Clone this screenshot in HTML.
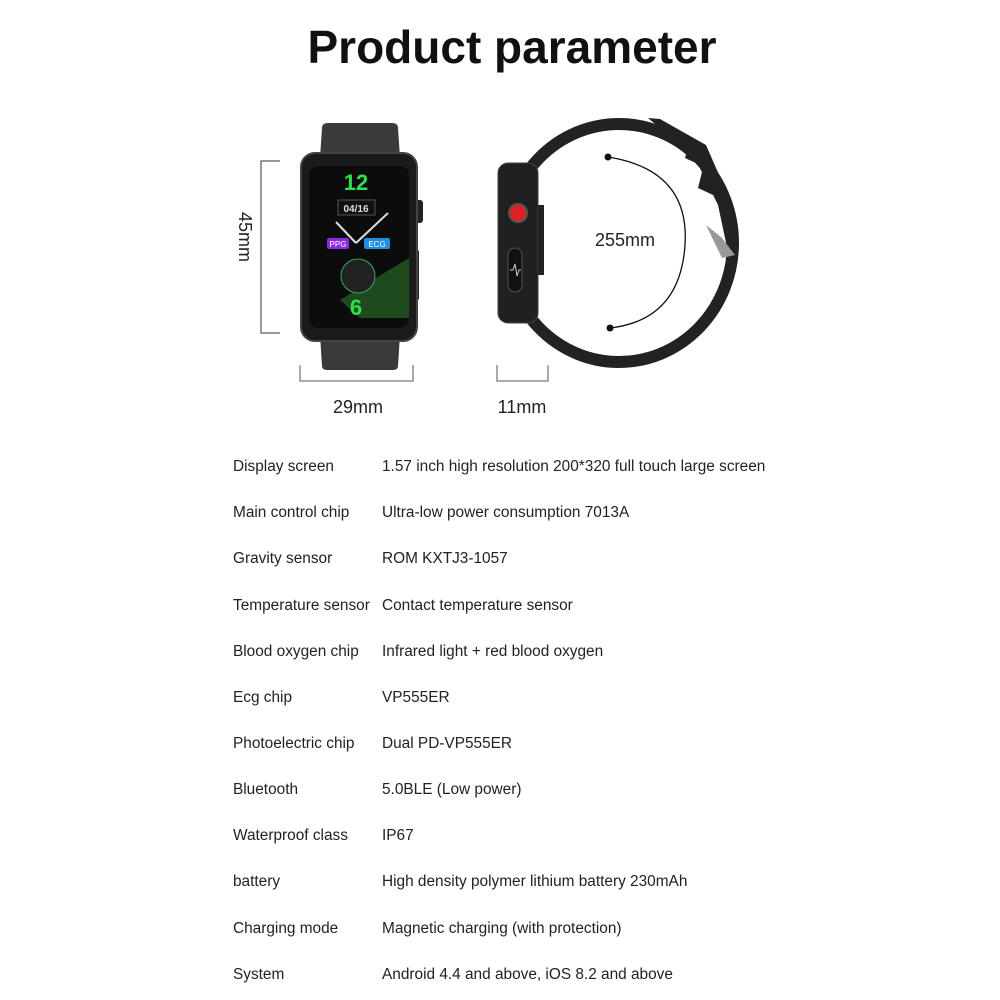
<!DOCTYPE html>
<html><head><style>
body{margin:0;width:1000px;height:1000px;background:#fff;font-family:"Liberation Sans",sans-serif;overflow:hidden;position:relative}
h1{position:absolute;top:20px;left:12px;width:1000px;margin:0;text-align:center;font-size:46px;font-weight:bold;color:#111}
.r{position:absolute;left:233px;font-size:15.4px;color:#222;white-space:nowrap}
.r span{position:absolute;left:149px}
</style></head><body>
<h1>Product parameter</h1>
<svg width="1000" height="430" style="position:absolute;left:0;top:0" font-family="Liberation Sans">
<path d="M322 128 Q322 123 328 123 L392 123 Q398 123 398 128 L400 158 L320 158 Z" fill="#3a3a3a"/>
<path d="M320 335 L400 335 L398 366 Q398 370 392 370 L328 370 Q322 370 322 366 Z" fill="#3a3a3a"/>
<rect x="414" y="200" width="9" height="23" rx="3" fill="#222"/>
<rect x="414" y="250" width="5" height="50" rx="2" fill="#222"/>
<rect x="301" y="153" width="116" height="188" rx="14" fill="#1b1b1b" stroke="#444" stroke-width="2"/>
<rect x="309" y="166" width="100" height="162" rx="9" fill="#0c0c0c"/>
<polygon points="340,300 409,258 409,318 360,318" fill="#1e4a1e"/>
<text x="356" y="190" font-size="22" font-weight="bold" fill="#2ee04a" text-anchor="middle">12</text>
<text x="356" y="315" font-size="22" font-weight="bold" fill="#2ee04a" text-anchor="middle">6</text>
<rect x="338" y="200" width="37" height="15" fill="#111" stroke="#555"/>
<text x="356" y="212" font-size="10" font-weight="bold" fill="#ddd" text-anchor="middle">04/16</text>
<line x1="356" y1="243" x2="336" y2="222" stroke="#ddd" stroke-width="2"/>
<line x1="356" y1="243" x2="388" y2="213" stroke="#ddd" stroke-width="2"/>
<rect x="327" y="238" width="22" height="11" rx="2" fill="#8a2be2"/>
<text x="338" y="247" font-size="8" fill="#fff" text-anchor="middle">PPG</text>
<rect x="364" y="238" width="26" height="11" rx="2" fill="#1e8fe0"/>
<text x="377" y="247" font-size="8" fill="#fff" text-anchor="middle">ECG</text>
<circle cx="358" cy="276" r="17" fill="#222" stroke="#3a6" stroke-width="1"/>
<path d="M280 161 H261 V333 H280" fill="none" stroke="#333" stroke-width="1"/>
<text x="245" y="237" font-size="18" fill="#222" text-anchor="middle" transform="rotate(90 245 237)" dy="6">45mm</text>
<path d="M300 365 V381 H413 V365" fill="none" stroke="#555" stroke-width="1"/>
<text x="358" y="413" font-size="18" fill="#222" text-anchor="middle">29mm</text>
<ellipse cx="619" cy="243" rx="114" ry="119" fill="none" stroke="#222" stroke-width="12"/>
<polygon points="648,118 660,119 706,145 730,200 738,250 728,252 718,205 695,158" fill="#222"/>
<polygon points="690,140 705,148 700,165 685,158" fill="#222"/>
<polygon points="703,168 718,175 713,195 698,188" fill="#222"/>
<polygon points="706,225 722,238 735,255 722,258" fill="#999"/>
<rect x="498" y="163" width="40" height="160" rx="10" fill="#202020" stroke="#444"/>
<rect x="538" y="205" width="6" height="70" fill="#222"/>
<circle cx="518" cy="213" r="9" fill="#e02020" stroke="#555" stroke-width="2"/>
<rect x="508" y="248" width="14" height="44" rx="7" fill="#111" stroke="#555"/>
<polyline points="510,270 513,270 515,264 517,276 519,270 521,270" fill="none" stroke="#ccc" stroke-width="1"/>
<path d="M608 157 Q690 170 685 245 Q680 320 610 328" fill="none" stroke="#111" stroke-width="1.3"/>
<circle cx="608" cy="157" r="3.5" fill="#111"/><circle cx="610" cy="328" r="3.5" fill="#111"/>
<text x="625" y="246" font-size="18" fill="#222" text-anchor="middle">255mm</text>
<path d="M497 365 V381 H548 V365" fill="none" stroke="#555" stroke-width="1"/>
<text x="522" y="413" font-size="18" fill="#222" text-anchor="middle">11mm</text>
</svg>
<div class="r" style="top:458px">Display screen<span>1.57 inch high resolution 200*320 full touch large screen</span></div>
<div class="r" style="top:504px">Main control chip<span>Ultra-low power consumption 7013A</span></div>
<div class="r" style="top:550px">Gravity sensor<span>ROM KXTJ3-1057</span></div>
<div class="r" style="top:597px">Temperature sensor<span>Contact temperature sensor</span></div>
<div class="r" style="top:643px">Blood oxygen chip<span>Infrared light + red blood oxygen</span></div>
<div class="r" style="top:689px">Ecg chip<span>VP555ER</span></div>
<div class="r" style="top:735px">Photoelectric chip<span>Dual PD-VP555ER</span></div>
<div class="r" style="top:781px">Bluetooth<span>5.0BLE (Low power)</span></div>
<div class="r" style="top:827px">Waterproof class<span>IP67</span></div>
<div class="r" style="top:873px">battery<span>High density polymer lithium battery 230mAh</span></div>
<div class="r" style="top:920px">Charging mode<span>Magnetic charging (with protection)</span></div>
<div class="r" style="top:966px">System<span>Android 4.4 and above, iOS 8.2 and above</span></div>
</body></html>
